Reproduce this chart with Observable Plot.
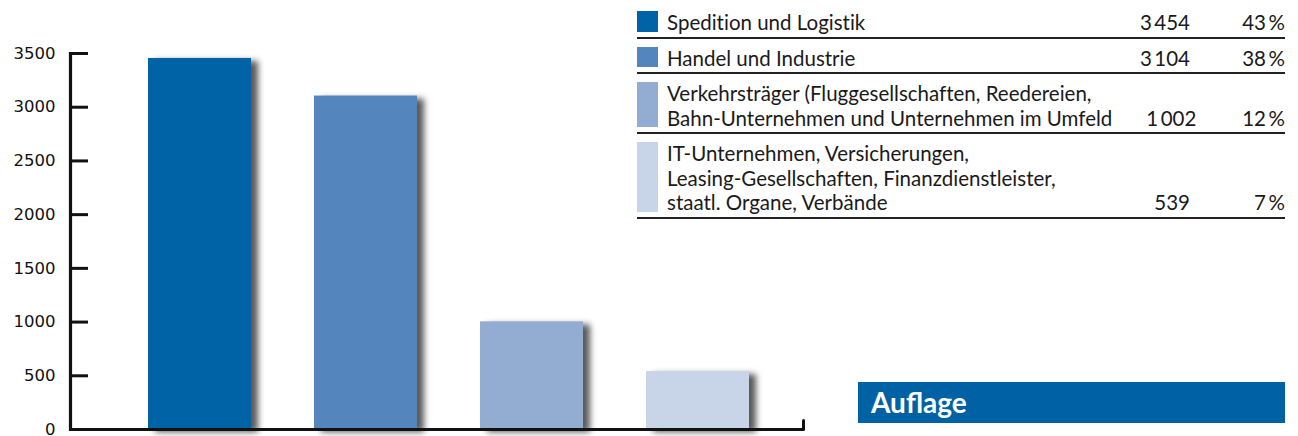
<!DOCTYPE html>
<html>
<head>
<meta charset="utf-8">
<script src="https://cdn.jsdelivr.net/npm/d3@7"></script>
<script src="https://cdn.jsdelivr.net/npm/@observablehq/plot@0.6"></script>
<style>
  html, body { margin: 0; padding: 0; background: #fff; }
  #wrap { position: relative; width: 1298px; height: 436px; overflow: hidden; }
  #legend { position: absolute; left: 637px; top: 3px; width: 648px; font-family: Lato, "Noto Sans", sans-serif; font-size: 20.5px; color: #1a1a1a; font-variant-ligatures: none; font-feature-settings: "liga" 0, "clig" 0; }
  .row { display: flex; border-bottom: 2px solid #222; padding: 7px 0 2px 0; line-height: 24.5px; }
  .sw { width: 21px; flex: none; margin-right: 9px; margin-top: 1px; }
  .lab { flex: 1; white-space: nowrap; }
  .num { width: 90px; text-align: right; align-self: flex-end; }
  .pct { width: 95px; text-align: right; align-self: flex-end; }
  #title { position: absolute; left: 858px; top: 382px; width: 427px; height: 41px; background: #0062a5; color: #fff; font-family: Lato, "Noto Sans", sans-serif; font-weight: 700; font-size: 28px; line-height: 41px; box-sizing: border-box; padding-left: 13px; }
</style>
</head>
<body>
<div id="wrap"></div>
<script>
// ---- data ----
const categories = [
  "Spedition und Logistik",
  "Handel und Industrie",
  "Verkehrsträger (Fluggesellschaften, Reedereien, Bahn-Unternehmen und Unternehmen im Umfeld",
  "IT-Unternehmen, Versicherungen, Leasing-Gesellschaften, Finanzdienstleister, staatl. Organe, Verbände"
];
const labelLines = [
  ["Spedition und Logistik"],
  ["Handel und Industrie"],
  ["Verkehrsträger (Fluggesellschaften, Reedereien,", "Bahn-Unternehmen und Unternehmen im Umfeld"],
  ["IT-Unternehmen, Versicherungen,", "Leasing-Gesellschaften, Finanzdienstleister,", "staatl. Organe, Verbände"]
];
const values = [3454, 3104, 1002, 539];
const percents = [43, 38, 12, 7];
const colors = ["#0063a6", "#5485bd", "#92acd2", "#c8d4e8"];
const yTicks = [0, 500, 1000, 1500, 2000, 2500, 3000, 3500];
const titleText = "Auflage";

// ---- chart ----
const data = categories.map((c, i) => ({category: c, value: values[i], color: colors[i]}));
const chart = Plot.plot({
  width: 1298,
  height: 436,
  marginLeft: 70,
  marginRight: 495,
  marginTop: 53,
  marginBottom: 7,
  style: {fontFamily: "DejaVu Sans, sans-serif", fontSize: "16.5px", color: "#111", background: "transparent"},
  x: {domain: categories, axis: null, paddingInner: 0.38, paddingOuter: 0, insetLeft: 77, insetRight: 54},
  y: {domain: [0, 3500], axis: null, label: null},
  marks: [
    Plot.barY(data, {x: "category", y: "value", fill: "color"}),
    Plot.axisY(yTicks, {tickSize: -18, tickPadding: 33, strokeWidth: 3, fontSize: 16.5, label: null, tickFormat: d => String(d)}),
    Plot.frame({anchor: "left", strokeWidth: 3.2}),
    Plot.ruleY([0], {strokeWidth: 3.2}),
    Plot.vector([0], {frameAnchor: "bottom-right", length: 9, rotate: 0, anchor: "start", strokeWidth: 3,
      shape: {draw(context, l) { context.moveTo(0, 0); context.lineTo(0, -l); }}})
  ]
});
d3.select(chart).selectAll('g[aria-label="bar"]').style("filter", "drop-shadow(7px 3px 3px rgba(0,0,0,0.65))");
const wrap = document.getElementById("wrap");
wrap.appendChild(chart);

// ---- legend table ----
const fmt = d3.formatLocale({decimal: ",", thousands: "\u2009", grouping: [3]}).format(",d");
const legend = d3.select(wrap).append("div").attr("id", "legend");
const rows = legend.selectAll("div.row").data(categories).join("div").attr("class", "row");
rows.append("div").attr("class", "sw")
  .style("background", (d, i) => colors[i])
  .style("height", (d, i) => (labelLines[i].length * 24.5 - 4) + "px");
rows.append("div").attr("class", "lab").html((d, i) => labelLines[i].join("<br>"));
rows.append("div").attr("class", "num").text((d, i) => fmt(values[i]));
rows.append("div").attr("class", "pct").text((d, i) => percents[i] + "\u2009%");

d3.select(wrap).append("div").attr("id", "title").text(titleText);
</script>
</body>
</html>
